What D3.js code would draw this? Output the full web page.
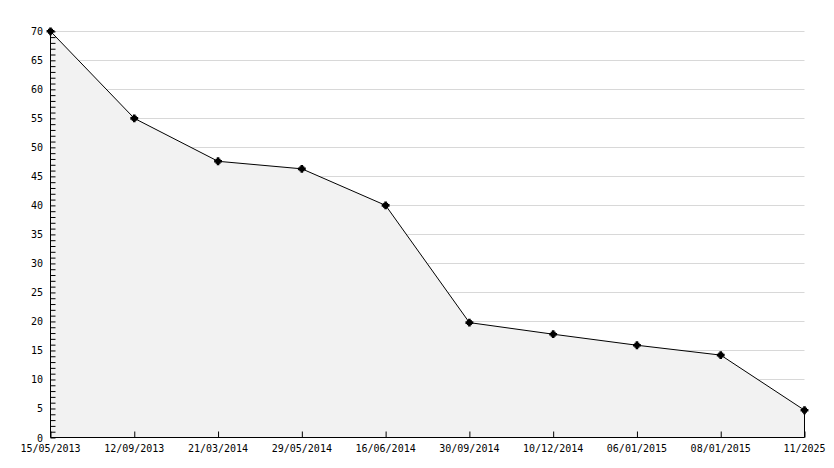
<!DOCTYPE html>
<html><head><meta charset="utf-8">
<script src="https://cdn.jsdelivr.net/npm/d3@7"></script>
<style>body{margin:0;background:#fff}svg{display:block}text{font-family:"DejaVu Sans Mono",monospace;font-size:10px;fill:#000}</style>
</head><body><svg id="c" width="834" height="468"></svg>
<script>
const categories = ["15/05/2013","12/09/2013","21/03/2014","29/05/2014","16/06/2014","30/09/2014","10/12/2014","06/01/2015","08/01/2015","11/2025"];
const values = [70, 55, 47.6, 46.3, 40, 19.8, 17.8, 15.9, 14.2, 4.7];
const yTicks = [0,5,10,15,20,25,30,35,40,45,50,55,60,65,70];

const svg = d3.select("#c");
const L = 50.5, R = 804.5, T = 31.3, B = 437.5;
const x = d3.scalePoint().domain(categories).range([L, R]);
const y = d3.scaleLinear().domain([0, 70]).range([B, T]);

// grid
svg.append("g").selectAll("line").data(yTicks.filter(d=>d>0)).join("line")
  .attr("x1", L).attr("x2", R).attr("y1", d=>Math.round(y(d))+0.5).attr("y2", d=>Math.round(y(d))+0.5)
  .attr("stroke", "#d8d8d8").attr("stroke-width", 1);

const data = categories.map((c,i)=>({c, v: values[i]}));
svg.append("path").datum(data)
  .attr("d", d3.area().x(d=>x(d.c)).y0(B).y1(d=>y(d.v)))
  .attr("fill", "#f2f2f2");
svg.append("path").datum(data)
  .attr("d", d3.line().x(d=>x(d.c)).y(d=>y(d.v)))
  .attr("fill", "none").attr("stroke", "#000").attr("stroke-width", 1);
// right edge of area
const last = data[data.length-1];
svg.append("line").attr("x1", x(last.c)).attr("x2", x(last.c)).attr("y1", y(last.v)).attr("y2", B)
  .attr("stroke", "#000");

// y axis
const yAxis = d3.axisRight(y).tickValues(d3.range(0, 71, 1)).tickSize(5).tickFormat("");
const gy = svg.append("g").attr("transform", `translate(${L},0)`).call(yAxis);
gy.select(".domain").remove();
gy.selectAll("line").attr("stroke", "#000");
svg.append("line").attr("x1", L).attr("x2", L).attr("y1", T-1).attr("y2", B).attr("stroke", "#000");
svg.append("g").selectAll("text").data(yTicks).join("text")
  .attr("x", 43).attr("y", d=>y(d)+4).attr("text-anchor", "end").text(d=>d);

// x axis
const xAxis = d3.axisTop(x).tickSize(6).tickFormat("");
const gx = svg.append("g").attr("transform", `translate(0,${B})`).call(xAxis);
gx.select(".domain").remove();
gx.selectAll("line").attr("stroke", "#000");
svg.append("line").attr("x1", L).attr("x2", R).attr("y1", B).attr("y2", B).attr("stroke", "#000");
svg.append("g").selectAll("text").data(categories).join("text")
  .attr("x", d=>x(d)).attr("y", 452).attr("text-anchor", "middle").text(d=>d);

// markers
const mk = svg.append("g").selectAll("g").data(data).join("g")
  .attr("transform", d=>`translate(${x(d.c)},${y(d.v)})`);
mk.append("path").attr("d", d3.symbol(d3.symbolCross, 34)).attr("fill", "#000");
mk.append("rect").attr("x", -2.5).attr("y", -2.5).attr("width", 5).attr("height", 5).attr("fill", "#000");
</script></body></html>
